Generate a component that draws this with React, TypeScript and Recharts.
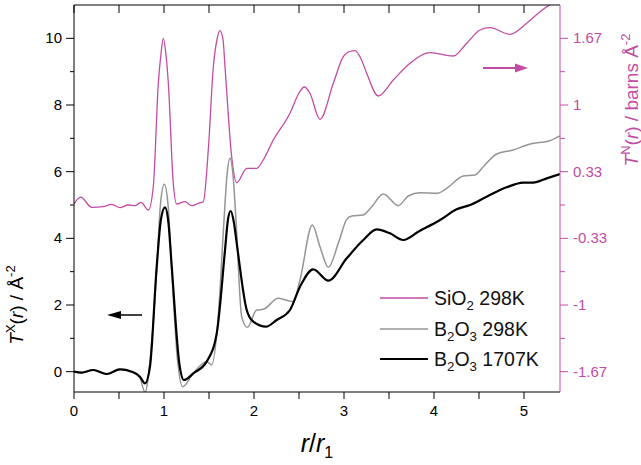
import {
    ComposedChart,
    Line,
    XAxis,
    YAxis,
    Legend,
    Label,
    Customized,
} from "recharts";

const PINK = "#c24ca3";
const GRAY = "#959595";
const FONT = "'Liberation Sans', Arial, sans-serif";

// r / r1 positions and T(r) values
const sio2R = [0, 0.074, 0.197, 0.322, 0.419, 0.511, 0.603, 0.678, 0.744, 0.826, 0.881, 0.937, 0.965, 0.992, 1.022, 1.048, 1.103, 1.141, 1.233, 1.308, 1.381, 1.437, 1.492, 1.548, 1.59, 1.622, 1.655, 1.678, 1.752, 1.808, 1.919, 2.03, 2.103, 2.214, 2.4, 2.5, 2.56, 2.62, 2.733, 2.881, 2.992, 3.06, 3.122, 3.19, 3.252, 3.381, 3.548, 3.733, 3.956, 4.214, 4.363, 4.511, 4.622, 4.844, 5.03, 5.178, 5.289, 5.4];
const sio2T = [0.011, 0.078, -0.023, -0.017, 0.007, -0.027, 0, -0.007, 0.027, -0.05, 0.183, 1.22, 1.5, 1.667, 1.5, 1.22, 0.22, 0.01, 0.033, -0.007, 0.017, 0.033, 0.55, 1.38, 1.66, 1.743, 1.66, 1.38, 0.483, 0.223, 0.367, 0.367, 0.45, 0.65, 0.917, 1.12, 1.18, 1.12, 0.857, 1.217, 1.483, 1.535, 1.543, 1.46, 1.317, 1.09, 1.25, 1.417, 1.523, 1.49, 1.617, 1.75, 1.773, 1.707, 1.817, 1.933, 2.003, 2.06];

const b2o3R = [0, 0.086, 0.214, 0.363, 0.511, 0.641, 0.733, 0.789, 0.844, 0.919, 0.96, 1.003, 1.045, 1.086, 1.15, 1.208, 1.326, 1.474, 1.53, 1.6, 1.667, 1.7, 1.733, 1.767, 1.8, 1.863, 1.926, 2.03, 2.103, 2.27, 2.437, 2.511, 2.648, 2.733, 2.826, 2.937, 3.03, 3.086, 3.214, 3.308, 3.437, 3.603, 3.714, 3.844, 4.03, 4.141, 4.326, 4.456, 4.548, 4.697, 4.881, 5.067, 5.289, 5.4];
const b2o3T = [0, -0.03, 0.05, -0.07, 0.07, 0, -0.19, -0.62, 0.3, 3.05, 5.0, 5.62, 5.0, 3.05, 0.35, -0.45, -0.05, 0.3, 0.2, 1.55, 4.55, 5.9, 6.4, 5.9, 4.55, 1.65, 1.33, 1.85, 1.87, 2.2, 2.1, 2.75, 4.4, 3.75, 3.13, 3.85, 4.57, 4.67, 4.7, 4.95, 5.33, 4.98, 5.27, 5.37, 5.35, 5.5, 5.87, 5.9, 6.15, 6.53, 6.65, 6.83, 6.93, 7.07];

const hotR = [0, 0.086, 0.214, 0.363, 0.511, 0.641, 0.733, 0.789, 0.844, 0.919, 0.965, 1.011, 1.05, 1.086, 1.17, 1.222, 1.326, 1.474, 1.586, 1.678, 1.71, 1.741, 1.775, 1.808, 1.919, 1.992, 2.133, 2.252, 2.4, 2.511, 2.659, 2.826, 3.03, 3.214, 3.363, 3.511, 3.659, 3.826, 4.067, 4.252, 4.4, 4.585, 4.807, 4.992, 5.103, 5.252, 5.4];
const hotT = [0, -0.03, 0.05, -0.07, 0.07, 0, -0.15, -0.35, 0.15, 3.15, 4.55, 4.93, 4.45, 3.15, 0.25, -0.25, -0.05, 0.3, 1.15, 3.65, 4.55, 4.82, 4.5, 3.85, 1.85, 1.5, 1.35, 1.55, 1.85, 2.55, 3.07, 2.73, 3.4, 3.95, 4.27, 4.15, 3.95, 4.2, 4.55, 4.87, 5.0, 5.25, 5.53, 5.67, 5.67, 5.8, 5.93];

const xTicks = [0, 0.5, 1, 1.5, 2, 2.5, 3, 3.5, 4, 4.5, 5];
const leftTicks = [0, 1, 2, 3, 4, 5, 6, 7, 8, 9, 10];
const rightTicks = [-5 / 3, -4 / 3, -1, -2 / 3, -1 / 3, 0, 1 / 3, 2 / 3, 1, 4 / 3, 5 / 3];

const zip = (r: number[], t: number[]) => r.map((v, i) => ({ r: v, t: t[i] }));
const sio2Data = zip(sio2R, sio2T);
const b2o3Data = zip(b2o3R, b2o3T);
const hotData = zip(hotR, hotT);

const BottomTick = ({ x, y, payload }: any) => {
    const major = Number.isInteger(payload.value);
    return (
        <g>
            <line x1={x} x2={x} y1={y} y2={y + 7} stroke="#000" />
            {major && (
                <text x={x} y={y + 24} textAnchor="middle" fontSize={15} fontFamily={FONT} fill="#000">
                    {payload.value}
                </text>
            )}
        </g>
    );
};

const TopTick = ({ x, y }: any) => (
    <line x1={x} x2={x} y1={y} y2={y + 8} stroke="#000" />
);

const LeftTick = ({ x, y, payload }: any) => {
    const major = payload.value % 2 === 0;
    return (
        <g>
            <line x1={x} x2={x - (major ? 8 : 4)} y1={y} y2={y} stroke="#000" />
            {major && (
                <text x={x - 12} y={y + 5} textAnchor="end" fontSize={15} fontFamily={FONT} fill="#000">
                    {payload.value}
                </text>
            )}
        </g>
    );
};

const RightTick = ({ x, y, payload }: any) => {
    const v = payload.value;
    const major = Math.abs(Math.round(v * 3)) % 2 === 1;
    const label = Math.abs(v - Math.round(v)) < 1e-6 ? String(Math.round(v)) : v.toFixed(2);
    return (
        <g>
            <line x1={x} x2={x + (major ? 8 : 5)} y1={y} y2={y} stroke={PINK} />
            {major && (
                <text x={x + 13} y={y + 5} textAnchor="start" fontSize={15} fontFamily={FONT} fill={PINK}>
                    {label}
                </text>
            )}
        </g>
    );
};

const Arrows = () => (
    <g>
        <line x1={142} y1={315} x2={116} y2={315} stroke="#000" strokeWidth={1.5} />
        <polygon points="107,315 121,311 121,319" fill="#000" />
        <line x1={483} y1={68} x2={518} y2={68} stroke={PINK} strokeWidth={2} />
        <polygon points="528,68 515,63.5 515,72.5" fill={PINK} />
    </g>
);

const legendItems = [
    { key: "sio2", color: PINK, width: 1.3, label: <>SiO<sub>2</sub> 298K</> },
    { key: "b2o3", color: GRAY, width: 1.5, label: <>B<sub>2</sub>O<sub>3</sub> 298K</> },
    { key: "hot", color: "#000", width: 2, label: <>B<sub>2</sub>O<sub>3</sub> 1707K</> },
];

const LegendBox = () => (
    <div style={{ fontFamily: FONT, fontSize: 19.5, color: "#111" }}>
        {legendItems.map((it) => (
            <div key={it.key} style={{ display: "flex", alignItems: "center", height: 30.5 }}>
                <svg width={48} height={10} style={{ marginRight: 6 }}>
                    <line x1={0} x2={48} y1={5} y2={5} stroke={it.color} strokeWidth={it.width} />
                </svg>
                <span style={{ lineHeight: "20px", whiteSpace: "nowrap" }}>{it.label}</span>
            </div>
        ))}
    </div>
);

const App = () => {
    return (
        <div style={{ position: "absolute", left: 0, top: 0 }}>
            <style>{`sub { font-size: 0.68em; vertical-align: -0.35em; line-height: 0; }`}</style>
            <ComposedChart width={641} height={465} margin={{ top: 0, right: 11, bottom: 13, left: 14 }}>
                <XAxis
                    xAxisId="bottom"
                    type="number"
                    dataKey="r"
                    domain={[0, 5.4]}
                    ticks={xTicks}
                    interval={0}
                    height={60}
                    tickSize={0}
                    tickMargin={0}
                    tick={<BottomTick />}
                    allowDataOverflow
                    axisLine={{ stroke: "#000" }}
                >
                    <Label
                        content={() => (
                            <text x={317} y={452} textAnchor="middle" fontSize={25} fontFamily={FONT} fill="#000">
                                <tspan fontStyle="italic">r</tspan>
                                <tspan>/</tspan>
                                <tspan fontStyle="italic">r</tspan>
                                <tspan dy={6} fontSize={16}>1</tspan>
                            </text>
                        )}
                    />
                </XAxis>
                <XAxis
                    xAxisId="top"
                    orientation="top"
                    type="number"
                    dataKey="r"
                    domain={[0, 5.4]}
                    ticks={xTicks}
                    interval={0}
                    height={5}
                    tickSize={0}
                    tickMargin={0}
                    tick={<TopTick />}
                    allowDataOverflow
                    axisLine={{ stroke: "#000" }}
                />
                <YAxis
                    yAxisId="left"
                    type="number"
                    domain={[-0.61, 11]}
                    ticks={leftTicks}
                    interval={0}
                    width={60}
                    tickSize={0}
                    tickMargin={0}
                    tick={<LeftTick />}
                    allowDataOverflow
                    axisLine={{ stroke: "#000" }}
                >
                    <Label
                        content={() => (
                            <text
                                x={23}
                                y={305}
                                transform="rotate(-90 23 305)"
                                textAnchor="middle"
                                fontSize={19}
                                fontFamily={FONT}
                                fill="#000"
                            >
                                <tspan fontStyle="italic">T</tspan>
                                <tspan dy={-8} fontSize={13}>X</tspan>
                                <tspan dy={8}>(</tspan>
                                <tspan fontStyle="italic">r</tspan>
                                <tspan>) / Å</tspan>
                                <tspan dy={-8} fontSize={13}>-2</tspan>
                            </text>
                        )}
                    />
                </YAxis>
                <YAxis
                    yAxisId="right"
                    orientation="right"
                    type="number"
                    domain={[-1.87, 2.0]}
                    ticks={rightTicks}
                    interval={0}
                    width={70}
                    tickSize={0}
                    tickMargin={0}
                    tick={<RightTick />}
                    allowDataOverflow
                    axisLine={{ stroke: PINK }}
                >
                    <Label
                        content={() => (
                            <text
                                x={638}
                                y={100}
                                transform="rotate(-90 638 100)"
                                textAnchor="middle"
                                fontSize={19}
                                fontFamily={FONT}
                                fill={PINK}
                            >
                                <tspan fontStyle="italic">T</tspan>
                                <tspan dy={-8} fontSize={13}>N</tspan>
                                <tspan dy={8}>(</tspan>
                                <tspan fontStyle="italic">r</tspan>
                                <tspan>) / barns Å</tspan>
                                <tspan dy={-8} fontSize={13}>-2</tspan>
                            </text>
                        )}
                    />
                </YAxis>
                <Line
                    data={sio2Data}
                    xAxisId="bottom"
                    yAxisId="right"
                    dataKey="t"
                    type="monotone"
                    stroke={PINK}
                    strokeWidth={1.3}
                    dot={false}
                    isAnimationActive={false}
                />
                <Line
                    data={b2o3Data}
                    xAxisId="bottom"
                    yAxisId="left"
                    dataKey="t"
                    type="monotone"
                    stroke={GRAY}
                    strokeWidth={1.5}
                    dot={false}
                    isAnimationActive={false}
                />
                <Line
                    data={hotData}
                    xAxisId="bottom"
                    yAxisId="left"
                    dataKey="t"
                    type="monotone"
                    stroke="#000"
                    strokeWidth={2.2}
                    dot={false}
                    isAnimationActive={false}
                />
                <Customized component={Arrows} />
                <Legend
                    layout="vertical"
                    align="center"
                    verticalAlign="middle"
                    content={<LegendBox />}
                    wrapperStyle={{ left: 380, top: 283, width: 175, height: 92 }}
                />
            </ComposedChart>
        </div>
    );
};

export default App;
